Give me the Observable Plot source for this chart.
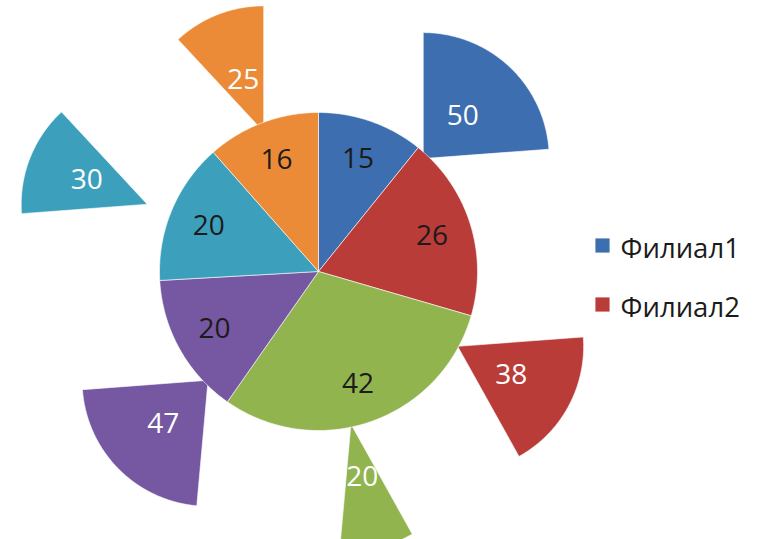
<!DOCTYPE html>
<html><head><meta charset="utf-8">
<script src="https://cdn.jsdelivr.net/npm/d3@7"></script>
<script src="https://cdn.jsdelivr.net/npm/@observablehq/plot@0.6"></script>
<style>body{margin:0;background:#fff}</style>
</head><body><div id="chart"></div>
<script>
const points = ["1","2","3","4","5","6"];
const seriesNames = ["Филиал1","Филиал2"];
const filial1 = [15, 26, 42, 20, 20, 16];
const filial2 = [50, 38, 20, 47, 30, 25];
const colors = ["#3D6EB0","#B93C38","#91B44F","#7558A1","#3CA0BD","#EB8B38"];

const W = 757, H = 539;
const cx = 318, cy = 271, R = 159, R2 = 126;
const explode = [154, 158, 156, 155, 184, 150];
const outerLabelR = [58, 61, 54, 63, 65, 56];
const FONT = "'Open Sans', sans-serif";

const pie = d3.pie().sort(null);
const inner = pie(filial1);
const outer = pie(filial2);

function slicePts(a, r, off) {
  const mid = (a.startAngle + a.endAngle) / 2;
  const ox = off * Math.sin(mid), oy = -off * Math.cos(mid);
  const pts = [{x: cx + ox, y: cy + oy}];
  const n = Math.max(4, Math.ceil((a.endAngle - a.startAngle) / 0.01));
  for (let k = 0; k <= n; k++) {
    const t = a.startAngle + (a.endAngle - a.startAngle) * k / n;
    pts.push({x: cx + ox + r * Math.sin(t), y: cy + oy - r * Math.cos(t)});
  }
  pts.push({x: cx + ox, y: cy + oy});
  return pts;
}
function labelPos(a, r, off, text) {
  const mid = (a.startAngle + a.endAngle) / 2;
  return {x: cx + (off + r) * Math.sin(mid), y: cy - (off + r) * Math.cos(mid), text};
}

const marks = [];
outer.forEach((a, i) => marks.push(Plot.line(slicePts(a, R2, explode[i]), {x: "x", y: "y", fill: colors[i], stroke: "white", strokeWidth: 1, strokeOpacity: 0.6, curve: "linear"})));
inner.forEach((a, i) => marks.push(Plot.line(slicePts(a, R, 0), {x: "x", y: "y", fill: colors[i], stroke: "white", strokeWidth: 1, strokeOpacity: 0.6, curve: "linear"})));

const innerLabels = inner.map((a, i) => labelPos(a, 119, 0, String(filial1[i])));
const outerLabels = outer.map((a, i) => labelPos(a, outerLabelR[i], explode[i], String(filial2[i])));
marks.push(Plot.text(innerLabels, {x: "x", y: "y", text: "text", fill: "#1b1b1b", fontSize: 28, fontFamily: FONT}));
marks.push(Plot.text(outerLabels, {x: "x", y: "y", text: "text", fill: "white", fontSize: 28, fontFamily: FONT}));

const legend = seriesNames.map((s, i) => ({name: s, color: colors[i], y: 245 + i * 59}));
marks.push(Plot.dot(legend, {x: () => 602, y: "y", symbol: "square", r: 8, fill: "color", stroke: "none"}));
marks.push(Plot.text(legend, {x: () => 620, y: d => d.y + 4, text: "name", textAnchor: "start", fill: "#1b1b1b", fontSize: 27.5, fontFamily: FONT}));

const chart = Plot.plot({
  width: W, height: H, margin: 0,
  x: {domain: [0, W], range: [0, W], axis: null},
  y: {domain: [0, H], range: [0, H], axis: null},
  color: {type: "identity"},
  style: {background: "white", fontFamily: FONT},
  marks
});
document.getElementById("chart").appendChild(chart);
</script>
</body></html>
